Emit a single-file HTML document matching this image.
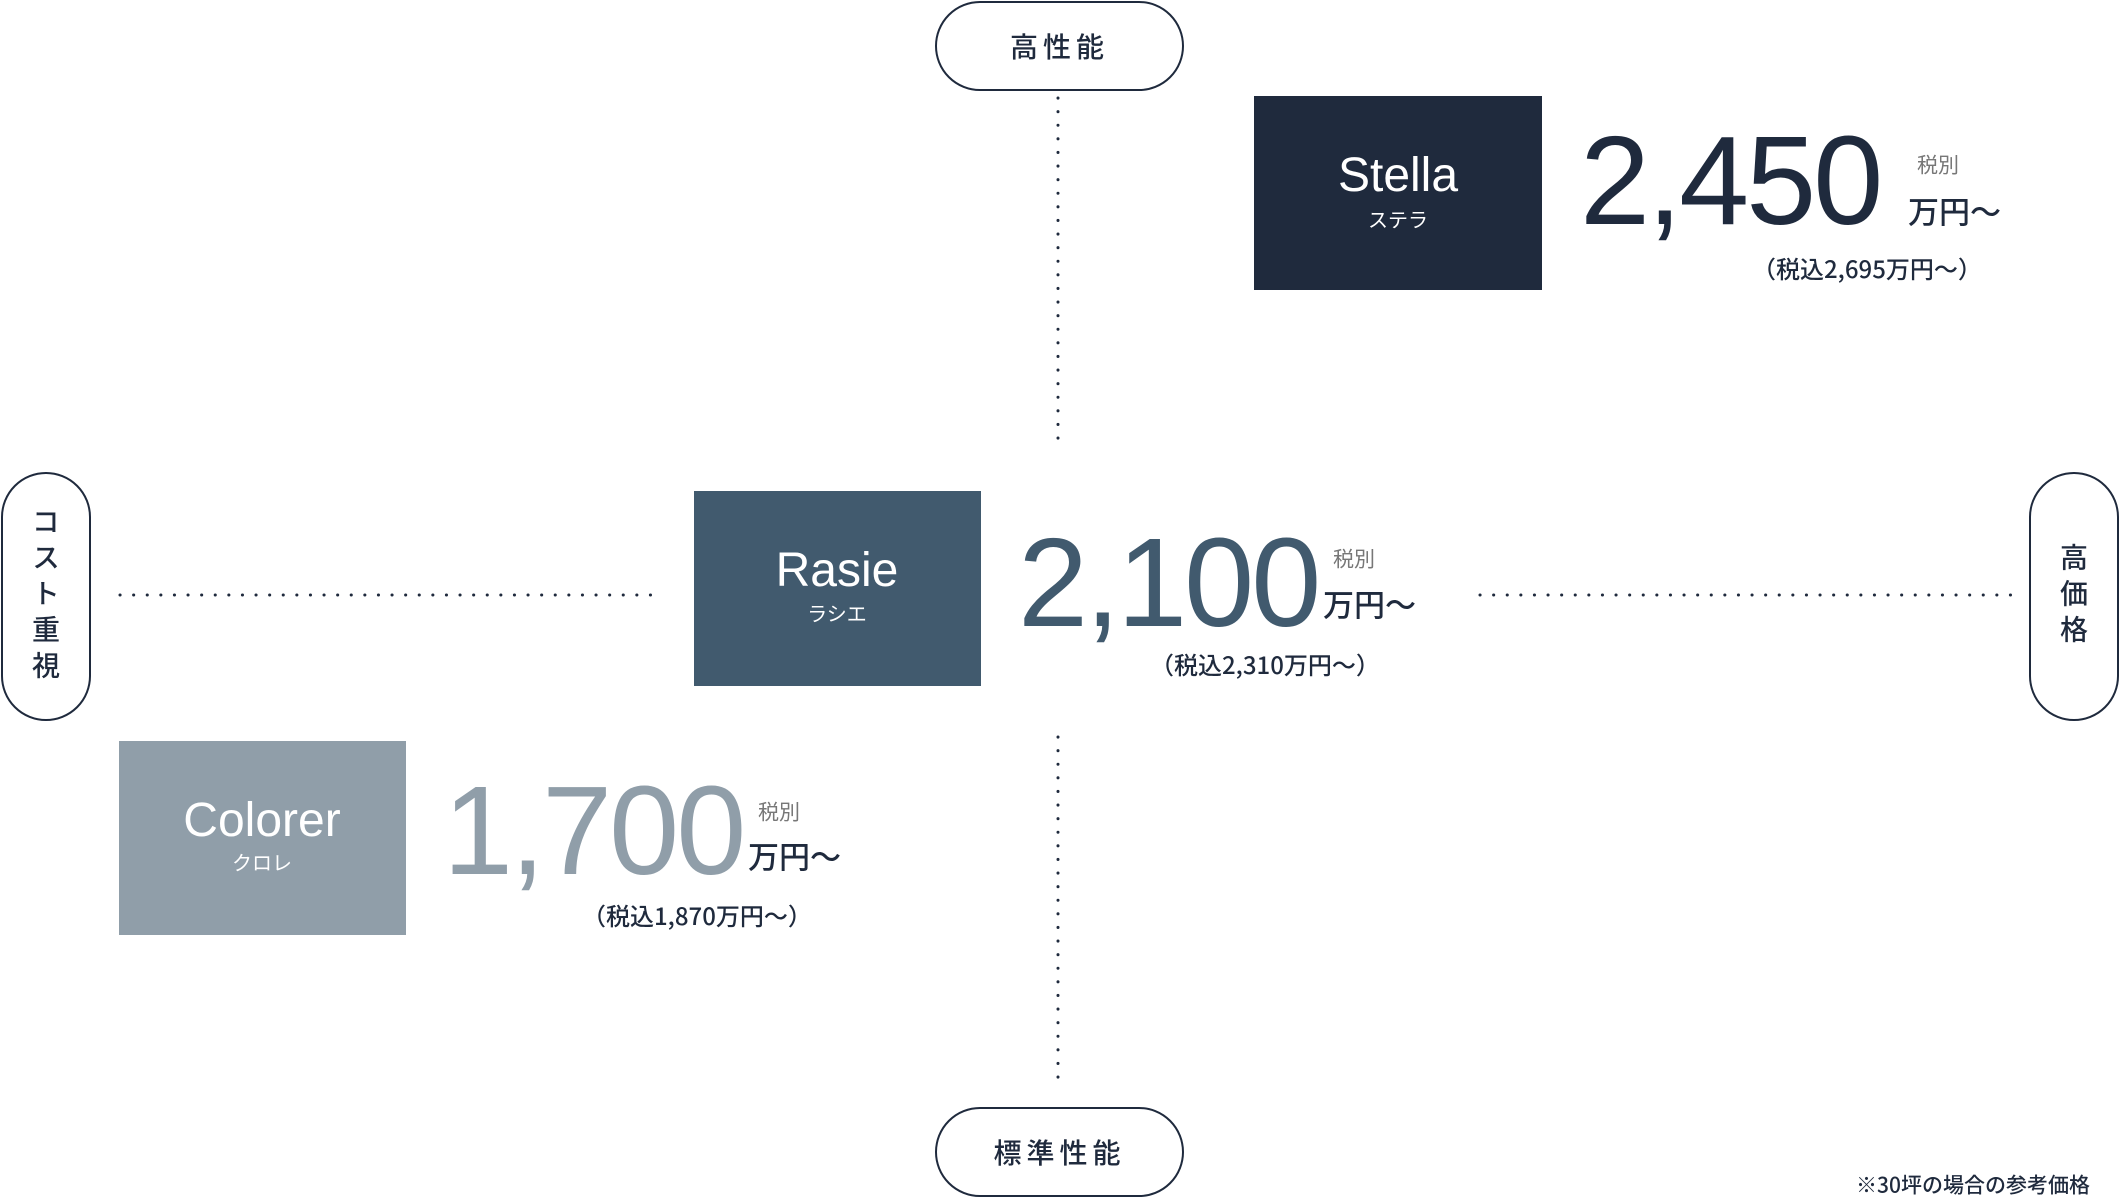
<!DOCTYPE html>
<html><head><meta charset="utf-8"><style>
html,body{margin:0;padding:0;background:#fff;}
body{width:2121px;height:1199px;position:relative;overflow:hidden;font-family:"Liberation Sans","Noto Sans CJK JP",sans-serif;color:#1f2a3d;}
.a{position:absolute;line-height:1;white-space:nowrap;transform:translateY(-50%);}
.c{transform:translate(-50%,-50%);}
.pill{position:absolute;border:2px solid #1f2a3d;box-sizing:border-box;border-radius:46px;display:flex;align-items:center;justify-content:center;font-family:"Noto Sans CJK JP",sans-serif;font-weight:500;font-size:28px;letter-spacing:5px;color:#1f2a3d;background:#fff;}
.v{writing-mode:vertical-rl;letter-spacing:8px;}
.box{position:absolute;}
.w{color:#fff;}
.jp{font-family:"Noto Sans CJK JP",sans-serif;}
.big{font-size:126px;letter-spacing:-3px;font-weight:400;}
.tb{font-family:"Noto Sans CJK JP",sans-serif;font-size:21px;color:#777;}
.my{font-family:"Noto Sans CJK JP",sans-serif;font-size:31px;font-weight:500;color:#1f2a3d;}
.tk{font-family:"Noto Sans CJK JP",sans-serif;font-size:24px;font-weight:500;color:#1f2a3d;}
</style></head><body>
<svg width="2121" height="1199" style="position:absolute;left:0;top:0">
<g stroke="#1f2a3d" stroke-width="3" stroke-linecap="round" stroke-dasharray="0.1 13.5">
<line x1="1058" y1="98" x2="1058" y2="449"/>
<line x1="1058" y1="737" x2="1058" y2="1089"/>
<line x1="120" y1="595" x2="653" y2="595"/>
<line x1="1480" y1="595" x2="2016" y2="595"/>
</g></svg>

<div class="pill" style="left:935px;top:1px;width:249px;height:90px;">高性能</div>
<div class="pill" style="left:935px;top:1107px;width:249px;height:90px;">標準性能</div>
<div class="pill v" style="left:1px;top:472px;width:90px;height:249px;">コスト重視</div>
<div class="pill v" style="left:2029px;top:472px;width:90px;height:249px;">高価格</div>

<div class="box" style="left:1254px;top:96px;width:288px;height:194px;background:#1f2a3d"></div>
<div class="a c w" style="left:1398px;top:176px;font-size:48px;">Stella</div>
<div class="a c w jp" style="left:1398px;top:219px;font-size:20px;">ステラ</div>
<div class="a big" style="left:1580px;top:181px;color:#1f2a3d">2,450</div>
<div class="a tb" style="left:1917px;top:165px;">税別</div>
<div class="a my" style="left:1908px;top:210px;">万円〜</div>
<div class="a tk" style="left:1752px;top:268px;">（税込2,695万円〜）</div>

<div class="box" style="left:694px;top:491px;width:287px;height:195px;background:#415a6e"></div>
<div class="a c w" style="left:837px;top:571px;font-size:48px;">Rasie</div>
<div class="a c w jp" style="left:837px;top:613px;font-size:20px;">ラシエ</div>
<div class="a big" style="left:1018px;top:583px;color:#415a6e">2,100</div>
<div class="a tb" style="left:1333px;top:559px;">税別</div>
<div class="a my" style="left:1323px;top:603px;">万円〜</div>
<div class="a tk" style="left:1150px;top:664px;">（税込2,310万円〜）</div>

<div class="box" style="left:119px;top:741px;width:287px;height:194px;background:#909ea9"></div>
<div class="a c w" style="left:262px;top:821px;font-size:48px;">Colorer</div>
<div class="a c w jp" style="left:262px;top:862px;font-size:20px;">クロレ</div>
<div class="a big" style="left:443px;top:831px;color:#909ea9">1,700</div>
<div class="a tb" style="left:758px;top:812px;">税別</div>
<div class="a my" style="left:748px;top:855px;">万円〜</div>
<div class="a tk" style="left:582px;top:915px;">（税込1,870万円〜）</div>

<div class="a jp" style="left:1856px;top:1185px;font-size:21px;font-weight:500;">※30坪の場合の参考価格</div>
</body></html>
